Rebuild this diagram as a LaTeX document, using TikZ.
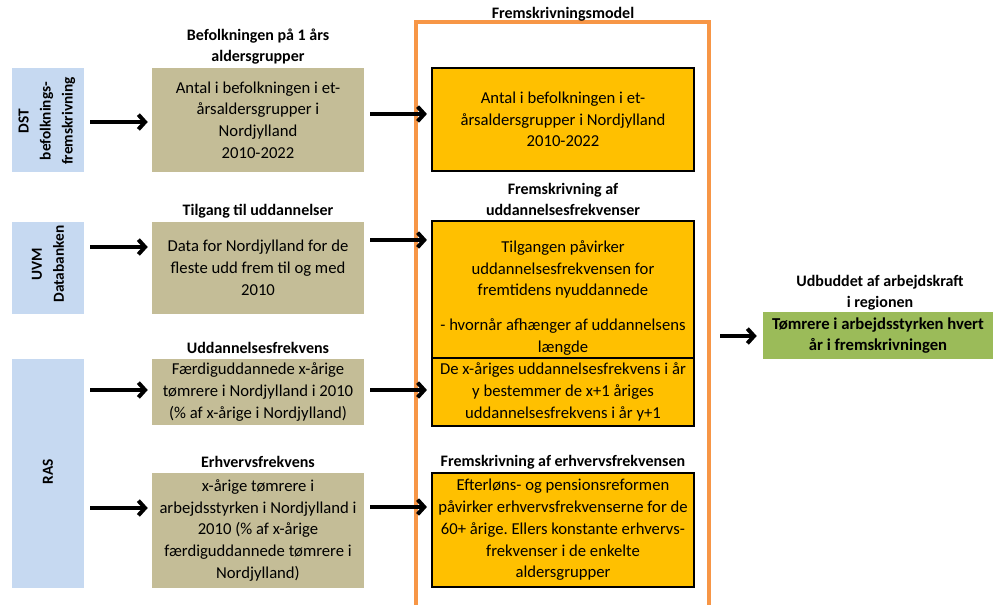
\documentclass[tikz,border=0pt]{standalone}
\usepackage{fontspec}
\setmainfont{Carlito}
\usetikzlibrary{arrows.meta,calc}
\definecolor{lblue}{RGB}{198,217,241}
\definecolor{tan}{RGB}{196,189,151}
\definecolor{ygold}{RGB}{255,192,0}
\definecolor{lgreen}{RGB}{155,187,89}
\definecolor{orng}{RGB}{247,150,70}
\frenchspacing
\begin{document}
\begin{tikzpicture}[x=0.75pt,y=-0.75pt,
  every node/.style={font=\fontsize{12.5}{16.3}\selectfont, inner sep=0pt, align=center},
  bluebox/.style={fill=lblue, minimum width=54pt},
  vtext/.style={rotate=90, font=\fontsize{11.5}{16.5}\selectfont\bfseries},
  tanbox/.style={fill=tan, minimum width=159pt},
  ybox/.style={fill=ygold, draw=black, line width=1.6pt, minimum width=196.5pt},
  ttl/.style={font=\fontsize{12}{15.8}\selectfont\bfseries},
  arr/.style={line width=3pt, -{Straight Barb[length=5pt,width=11pt]}}
]
\useasboundingbox (0,0) rectangle (1001,605);

% orange frame
\draw[orng, line width=2.4pt] (416,610) -- (416,22) -- (709,22) -- (709,610);

% blue source boxes
\node[bluebox, minimum height=78pt] (b1) at (48,120) {};
\node[vtext] (b1t) at (47,121) {DST\\befolknings-\\fremskrivning};
\node[bluebox, minimum height=69pt] (b2) at (48,268) {};
\node[vtext] (b2t) at (48,264) {UVM\\Databanken};
\node[bluebox, minimum height=171.75pt] (b3) at (48,473.5) {};
\node[vtext] (b3t) at (48,472) {RAS};

% tan boxes
\node[tanbox, minimum height=78pt] (t1) at (258,120) {Antal i befolkningen i et-\\årsaldersgrupper i\\Nordjylland\\2010-2022};
\node[tanbox, minimum height=69pt] (t2) at (258,268) {Data for Nordjylland for de\\fleste udd frem til og med\\2010};
\node[tanbox, minimum height=49.5pt] (t3) at (258,392) {Færdiguddannede x-årige\\tømrere i Nordjylland i 2010\\(\% af x-årige i Nordjylland)};
\node[tanbox, minimum height=86.25pt] (t4) at (258,530.5) {x-årige tømrere i\\arbejdsstyrken i Nordjylland i\\2010 (\% af x-årige\\færdiguddannede tømrere i\\Nordjylland)};

% titles
\node[ttl] (h1) at (258,46.5) {Befolkningen på 1 års\\aldersgrupper};
\node[ttl] (h2) at (258,211) {Tilgang til uddannelser};
\node[ttl] (h3) at (258,348) {Uddannelsesfrekvens};
\node[ttl] (h4) at (258,462) {Erhvervsfrekvens};
\node[ttl] (h5) at (563,14) {Fremskrivningsmodel};
\node[ttl] (h6) at (563,199) {Fremskrivning af\\uddannelsesfrekvenser};
\node[ttl] (h7) at (563,462) {Fremskrivning af erhvervsfrekvensen};
\node[ttl] (h8) at (880,293) {Udbuddet af arbejdskraft\\i regionen};

% yellow boxes
\node[ybox, minimum height=77.25pt] (y1) at (563,119.5) {Antal i befolkningen i et-\\årsaldersgrupper i Nordjylland\\2010-2022};
\node[ybox, minimum height=102.75pt] (y2) at (563,289.5) {};
\node (y2t) at (563,298) {Tilgangen påvirker\\uddannelsesfrekvensen for\\fremtidens nyuddannede\\[10pt]- hvornår afhænger af uddannelsens\\længde};
\node[ybox, minimum height=51pt] (y3) at (563,392) {De x-åriges uddannelsesfrekvens i år\\y bestemmer de x+1 åriges\\uddannelsesfrekvens i år y+1};
\node[ybox, minimum height=85.5pt] (y4) at (563,530) {Efterløns- og pensionsreformen\\påvirker erhvervsfrekvenserne for de\\60+ årige. Ellers konstante erhvervs-\\frekvenser i de enkelte\\aldersgrupper};

% green result
\node[fill=lgreen, minimum width=172.5pt, minimum height=35.25pt, font=\fontsize{12.5}{16.3}\selectfont\bfseries] (g) at (878,335.5) {Tømrere i arbejdsstyrken hvert\\år i fremskrivningen};

% arrows source -> tan
\draw[arr] ($(b1.east)+(6,2)$) -- ($(t1.west)+(-4,2)$);
\draw[arr] ($(b2.east)+(6,-21)$) -- ($(t2.west)+(-4,-21)$);
\draw[arr] ($(b3.east)+(6,-83.5)$) -- ($(t3.west)+(-4,-2)$);
\draw[arr] ($(b3.east)+(6,34.5)$) -- ($(t4.west)+(-4,-22.5)$);
% arrows tan -> yellow
\draw[arr] ($(t1.east)+(6,-6)$) -- ($(y1.west)+(-4,-5.5)$);
\draw[arr] ($(t2.east)+(6,-28)$) -- ($(y2.west)+(-4,-49.5)$);
\draw[arr] ($(t3.east)+(6,-2)$) -- ($(y3.west)+(-4,-2)$);
\draw[arr] ($(t4.east)+(6,-23.5)$) -- ($(y4.west)+(-4,-23)$);
% arrow to result
\coordinate (rs) at (720,336);
\draw[arr] (rs) -- ($(g.west)+(-6,0.5)$);
\end{tikzpicture}
\end{document}
